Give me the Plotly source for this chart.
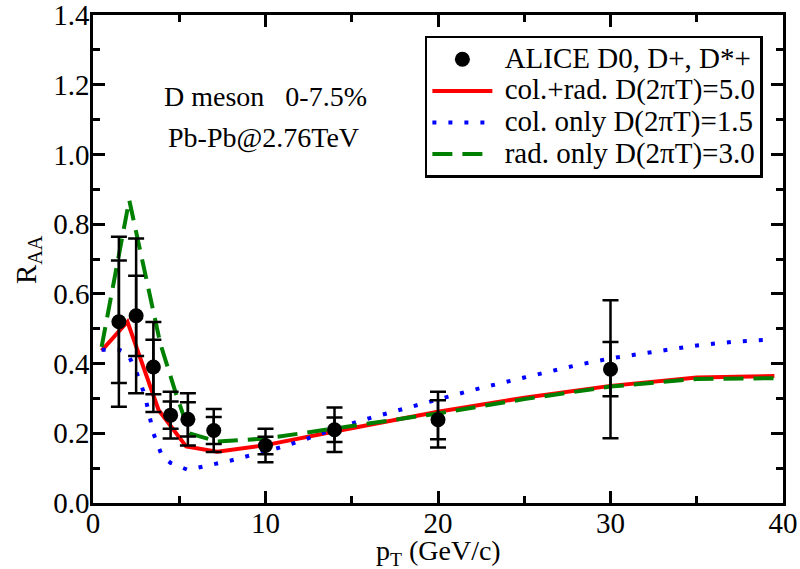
import plotly.graph_objects as go

# ALICE data
pt_data = [1.5, 2.5, 3.5, 4.5, 5.5, 7.0, 10.0, 14.0, 20.0, 30.0]
raa_data = [0.52, 0.537, 0.39, 0.252, 0.24, 0.208, 0.165, 0.21, 0.239, 0.384]
err_outer = [0.244, 0.222, 0.129, 0.067, 0.075, 0.062, 0.048, 0.064, 0.08, 0.198]
err_inner = [0.176, 0.115, 0.078, 0.039, 0.049, 0.039, 0.025, 0.035, 0.056, 0.078]

# col.+rad. D(2piT)=5.0
pt_colrad = [0.5, 2.0, 3.8, 5.4, 7.2, 10.0, 14.0, 20.0, 25.0, 30.0, 35.0, 39.5]
raa_colrad = [0.437, 0.52, 0.267, 0.162, 0.147, 0.166, 0.205, 0.262, 0.302, 0.336, 0.36, 0.364]

# col. only D(2piT)=1.5
pt_col = [0.5, 1.5, 2.0, 2.5, 3.0, 3.5, 4.0, 4.5, 5.5, 7.0, 8.0, 9.0, 10.0, 12.0, 14.0,
          16.0, 18.0, 20.0, 22.0, 25.0, 28.0, 30.0, 32.5, 35.0, 37.0, 39.5]
raa_col = [0.44, 0.44, 0.43, 0.378, 0.31, 0.2, 0.135, 0.115, 0.095, 0.11, 0.122, 0.135,
           0.147, 0.177, 0.213, 0.243, 0.269, 0.297, 0.324, 0.36, 0.395, 0.415, 0.434,
           0.452, 0.462, 0.47]

# rad. only D(2piT)=3.0
pt_rad = [0.5, 2.1, 3.9, 4.8, 5.6, 7.2, 10.0, 14.0, 20.0, 25.0, 30.0, 35.0, 39.5]
raa_rad = [0.448, 0.869, 0.458, 0.315, 0.2, 0.176, 0.185, 0.214, 0.257, 0.298, 0.334, 0.356, 0.358]

x_ticks = [0, 10, 20, 30, 40]
y_ticks = [0.0, 0.2, 0.4, 0.6, 0.8, 1.0, 1.2, 1.4]

FONT = "Liberation Serif, Times New Roman, serif"
NB = "\u00a0"


def leg(label):
    return '<span style="font-size:29px">' + NB + label + "</span>"


fig = go.Figure()

fig.add_trace(go.Scatter(
    x=pt_colrad, y=raa_colrad, mode="lines", name=leg("col.+rad. D(2πT)=5.0"),
    line=dict(color="#ff0000", width=4), legendrank=2))
fig.add_trace(go.Scatter(
    x=pt_col, y=raa_col, mode="lines", name=leg("col. only D(2πT)=1.5"),
    line=dict(color="#0000ff", width=4, dash="4px,12px"), legendrank=3))
fig.add_trace(go.Scatter(
    x=pt_rad, y=raa_rad, mode="lines", name=leg("rad. only D(2πT)=3.0"),
    line=dict(color="#008000", width=4, dash="20px,10px"), legendrank=4))

fig.add_trace(go.Scatter(
    x=pt_data, y=raa_data, mode="markers", showlegend=False,
    marker=dict(color="rgba(0,0,0,0)", size=1),
    error_y=dict(type="data", array=err_outer, visible=True,
                 color="black", thickness=2.5, width=8)))
fig.add_trace(go.Scatter(
    x=pt_data, y=raa_data, mode="markers", name=leg("ALICE D0, D+, D*+"),
    marker=dict(color="black", size=15),
    error_y=dict(type="data", array=err_inner, visible=True,
                 color="black", thickness=2.5, width=8),
    legendrank=1))

axis_common = dict(
    showline=True, linecolor="black", linewidth=2.5, mirror="ticks",
    ticks="inside", ticklen=12, tickwidth=2.5, tickcolor="black",
    showgrid=False, zeroline=False, automargin=False,
    ticklabeloverflow="allow",
    tickfont=dict(family=FONT, size=29, color="black"),
)

fig.update_xaxes(range=[0, 40], tickvals=x_ticks, ticktext=[str(v) for v in x_ticks],
                 ticklabelstandoff=-8,
                 minor=dict(dtick=5, ticklen=7, tickwidth=2.5, tickcolor="black", ticks="inside"),
                 **axis_common)
fig.update_yaxes(range=[0, 1.4], tickvals=y_ticks, ticktext=[f"{v:.1f}" for v in y_ticks],
                 ticklabelstandoff=-5,
                 minor=dict(dtick=0.1, ticklen=7, tickwidth=2.5, tickcolor="black", ticks="inside"),
                 **axis_common)

fig.add_annotation(x=10.0, y=1.166, xref="x", yref="y",
                   text="D meson" + NB * 3 + "0-7.5%", showarrow=False,
                   xanchor="center", yanchor="middle",
                   font=dict(family=FONT, size=28, color="black"))
fig.add_annotation(x=9.9, y=1.05, xref="x", yref="y",
                   text="Pb-Pb@2.76TeV", showarrow=False,
                   xanchor="center", yanchor="middle",
                   font=dict(family=FONT, size=28, color="black"))

fig.add_annotation(x=0.5, y=-0.101, xref="paper", yref="paper",
                   text="p<sub>T</sub> (GeV/c)", showarrow=False,
                   xanchor="center", yanchor="middle",
                   font=dict(family=FONT, size=28, color="black"))
fig.add_annotation(x=-0.094, y=0.498, xref="paper", yref="paper",
                   text="R<sub>AA</sub>", showarrow=False, textangle=-90,
                   xanchor="center", yanchor="middle",
                   font=dict(family=FONT, size=29, color="black"))

fig.update_layout(
    width=800, height=569,
    margin=dict(l=93, r=17, t=15, b=66, autoexpand=False),
    paper_bgcolor="white", plot_bgcolor="white",
    showlegend=True,
    legend=dict(x=0.481, y=0.957, xanchor="left", yanchor="top",
                bgcolor="white", bordercolor="black", borderwidth=2.5,
                font=dict(family=FONT, size=22, color="black"),
                itemwidth=60, tracegroupgap=0),
)

fig.write_html("out.html", config={"displayModeBar": False},
               post_script="document.body.style.margin='0';document.body.style.overflow='hidden';")
